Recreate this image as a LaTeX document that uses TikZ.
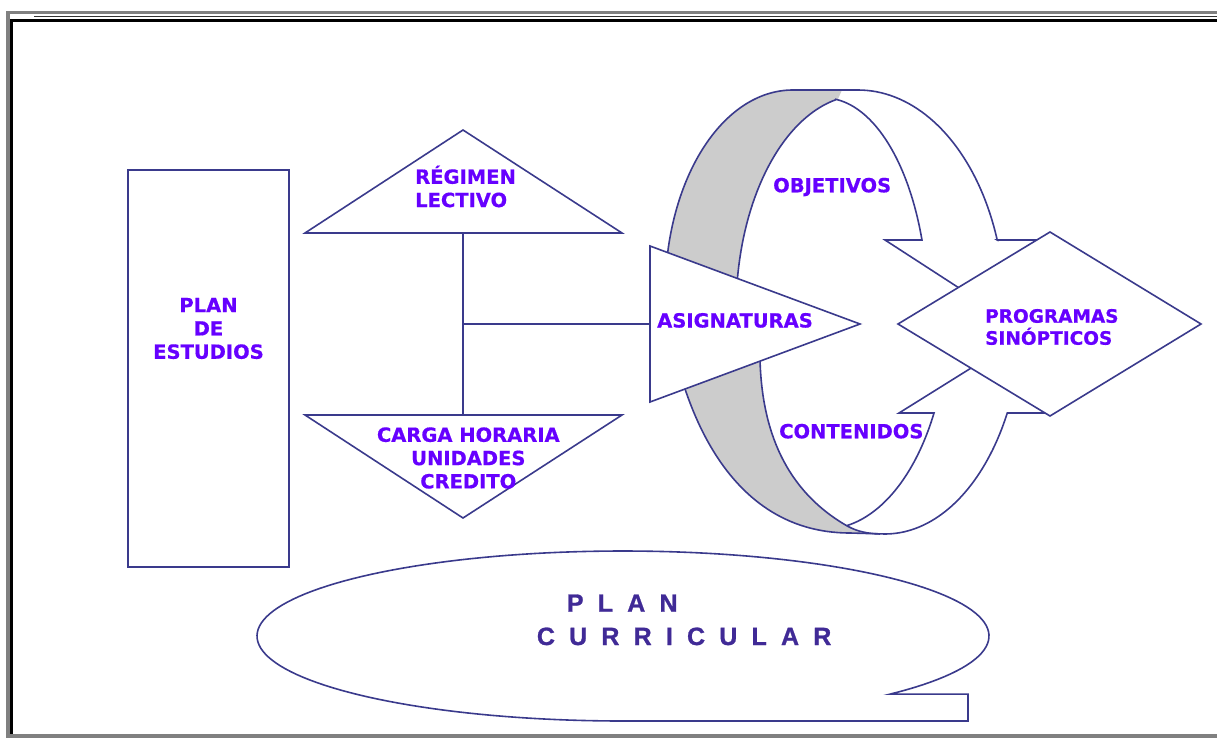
\documentclass[tikz,border=0pt]{standalone}
\usepackage{fontspec}
\setmainfont{DejaVu Sans}
\newfontfamily\lblfont{DejaVu Sans Bold}[FakeBold=0.6]
\newfontfamily\arialbold{Liberation Sans Bold}[FakeBold=1]
\definecolor{txt}{RGB}{102,0,255}
\definecolor{ln}{RGB}{58,58,140}
\definecolor{pc}{RGB}{64,42,150}
\definecolor{greyfill}{RGB}{204,204,204}
\definecolor{framegray}{RGB}{128,128,128}
\newcommand\gapx{\hspace{14.2pt}}
\begin{document}
\begin{tikzpicture}[x=1pt,y=-1pt,
  shp/.style={draw=ln, line width=1.6pt, line join=miter},
  lbl/.style={text=txt, font=\lblfont\fontsize{19.5}{23.3}\selectfont, inner sep=0pt, align=center},
  pcl/.style={text=pc, font=\arialbold\fontsize{25}{25}\selectfont, inner sep=0pt, anchor=base west}]
\useasboundingbox (0,0) rectangle (1217,738);
% frame
\fill[framegray] (6,11) rectangle (1217,14.5);
\draw[black!80, line width=1.2pt] (34,16.7) -- (1217,16.7);
\fill[black] (9.5,19) rectangle (1217,22.5);
\fill[framegray] (6,11) rectangle (9.5,738);
\fill[black] (9.5,19) rectangle (13,738);
\fill[framegray] (9.5,734) rectangle (1217,738);
% plan de estudios box
\draw[shp] (128,170) rectangle (289,567);
% triangles
\coordinate (rlL) at (305,233); \coordinate (rlT) at (463,130); \coordinate (rlR) at (622,233);
\draw[shp] (rlL) -- (rlT) -- (rlR) -- cycle;
\coordinate (chL) at (305,415); \coordinate (chB) at (463,518); \coordinate (chR) at (622,415);
\draw[shp] (chL) -- (chR) -- (chB) -- cycle;
\coordinate (vt) at (463,233); \coordinate (vb) at (463,415);
\coordinate (hj) at (463,324); \coordinate (asw) at (650,324);
\draw[shp] (vt) -- (vb);
\draw[shp] (hj) -- (asw);
% loop: grey back band
\fill[greyfill] (793,90) -- (842,90) -- (838,99) -- plot[domain=102:180,samples=40,variable=\t] ({862+126*cos(\t)},{311-216*sin(\t)}) -- (760,360) .. controls (762,430) and (785,490) .. (846.7,525.7) .. controls (858,532) and (868,533.5) .. (880,534) -- (850,533) .. controls (720,533) and (675,390) .. (665,295) .. controls (665,180) and (722,90) .. (793,90) -- cycle;
% outer contour
\draw[shp] (1036.8,240) -- (997.2,240) -- plot[domain=18.74:90,samples=40,variable=\t] ({858+147*cos(\t)},{311-221*sin(\t)}) -- (793,90) .. controls (722,90) and (665,180) .. (665,295) .. controls (675,390) and (720,533) .. (850,533) -- (885,534) -- plot[domain=-90:-27.22,samples=40,variable=\t] ({885+137.5*cos(\t)},{311-223*sin(\t)}) -- (1045,413);
% grey inner edges
\draw[shp] plot[domain=102:180,samples=40,variable=\t] ({862+126*cos(\t)},{311-216*sin(\t)});
\draw[shp] (760,360) .. controls (762,430) and (785,490) .. (846.7,525.7) .. controls (858,532) and (868,533.5) .. (880,534);
% front inner arcs with arrowheads
\draw[shp] plot[domain=84:19.47,samples=40,variable=\t] ({824.3+103.6*cos(\t)},{311-213*sin(\t)}) -- (885,240) -- (958.3,287.5);
\draw[shp] plot[domain=-80:-27.9,samples=40,variable=\t] ({825.3+123*cos(\t)},{311-218*sin(\t)}) -- (899,413) -- (971,368.1);
% asignaturas triangle and diamond
\draw[shp, fill=white] (650,246) -- (860,324) -- (650,402) -- cycle;
\draw[shp, fill=white] (898,324) -- (1050,232) -- (1201,324) -- (1050,416) -- cycle;
% callout
\draw[shp] plot[domain=-43.2:270,samples=150,variable=\t] ({623+366*cos(\t)},{636-85*sin(\t)}) -- (968,721) -- (968,694.1) -- cycle;
% texts
\node[lbl] (tpe) at (208.5,328.5) {PLAN\\DE\\ESTUDIOS};
\node[lbl, align=left, anchor=west] (trl) at (415,186.5) {RÉGIMEN\\LECTIVO};
\node[lbl] (tch) at (468.3,458) {CARGA HORARIA\\UNIDADES\\CREDITO};
\node[lbl, anchor=base west] (tas) at (657,327.5) {ASIGNATURAS};
\node[lbl, anchor=base west] (tob) at (773,192.3) {OBJETIVOS};
\node[lbl, anchor=base west] (tco) at (779,438.3) {CONTENIDOS};
\node[lbl, align=left, anchor=west, font=\lblfont\fontsize{18.5}{22}\selectfont] (tps) at (985,327) {PROGRAMAS\\SINÓPTICOS};
\node[pcl] (tpl) at (566.7,611.7) {P\gapx L\gapx A\gapx N};
\node[pcl] (tcu) at (536.7,645) {C\gapx U\gapx R\gapx R\gapx I\gapx C\gapx U\gapx L\gapx A\gapx R};
\end{tikzpicture}
\end{document}
